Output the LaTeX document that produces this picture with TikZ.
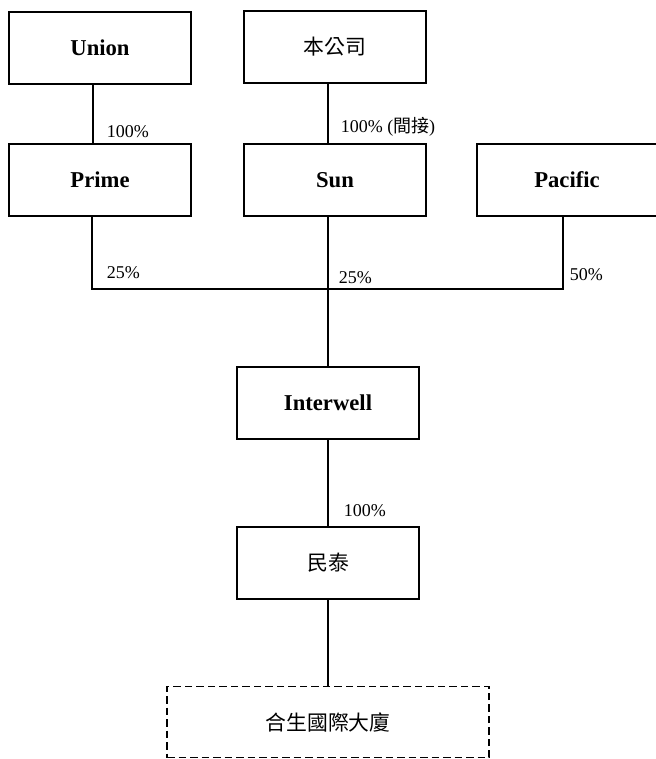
\documentclass[tikz,border=0pt]{standalone}
\usepackage{fontspec}
\setmainfont{Liberation Serif}
\newfontfamily\cjk{Noto Sans CJK TC}
\usepackage{tikz}
\usetikzlibrary{positioning}

\begin{document}
\begin{tikzpicture}[x=0.6pt,y=-0.6pt,line width=0.9pt,
  box/.style={draw,minimum width=109.2pt,minimum height=43.2pt,inner sep=0pt,outer sep=0pt,font=\fontsize{13.6}{16}\selectfont\bfseries},
  dashbox/.style={box,dash pattern=on 4.5pt off 2.4pt,minimum width=193.2pt,minimum height=42.6pt},
  pct/.style={anchor=west,inner sep=0pt,font=\fontsize{10.8}{13}\selectfont}]
\useasboundingbox (0,0) rectangle (655,759);
% Top row
\node[box] (union) at (100,48) {Union};
\node[box] (hq) at (335,47) {\cjk\mdseries\fontsize{12.5}{15}\selectfont 本公司};
% Second row
\node[box] (prime) at (100,180) {Prime};
\node[box] (sun) at (335,180) {Sun};
\node[box,minimum width=108pt] (pacific) at (567,180) {Pacific};
% Lower part
\node[box] (interwell) at (328,403) {Interwell};
\node[box] (mintai) at (328,563) {\cjk\mdseries\fontsize{12.5}{15}\selectfont 民泰};
\node[dashbox] (tower) at (328,722) {\cjk\mdseries\fontsize{12.5}{15}\selectfont 合生國際大廈};
\coordinate (bus) at (328,289);

% Links
\draw ([xshift=-4.2pt]union.south) -- ([xshift=-4.2pt]prime.north);
\draw (hq.south -| interwell.north) -- (sun.north -| interwell.north);
\draw ([xshift=-4.8pt]prime.south) |- (bus);
\draw ([xshift=-2.4pt]pacific.south) |- (bus);
\draw (sun.south -| interwell.north) -- (interwell.north);
\draw (interwell) -- (mintai);
\draw (mintai) -- (tower);

% Percentages
\node[pct] (p1) at (106,132) {100\%};
\node[pct] (p2) at (340,127) {100\% ({\cjk 間接})};
\node[pct] (p3) at (106,273) {25\%};
\node[pct] (p4) at (338,278) {25\%};
\node[pct] (p5) at (569,275) {50\%};
\node[pct] (p6) at (343,511) {100\%};
\end{tikzpicture}
\end{document}
